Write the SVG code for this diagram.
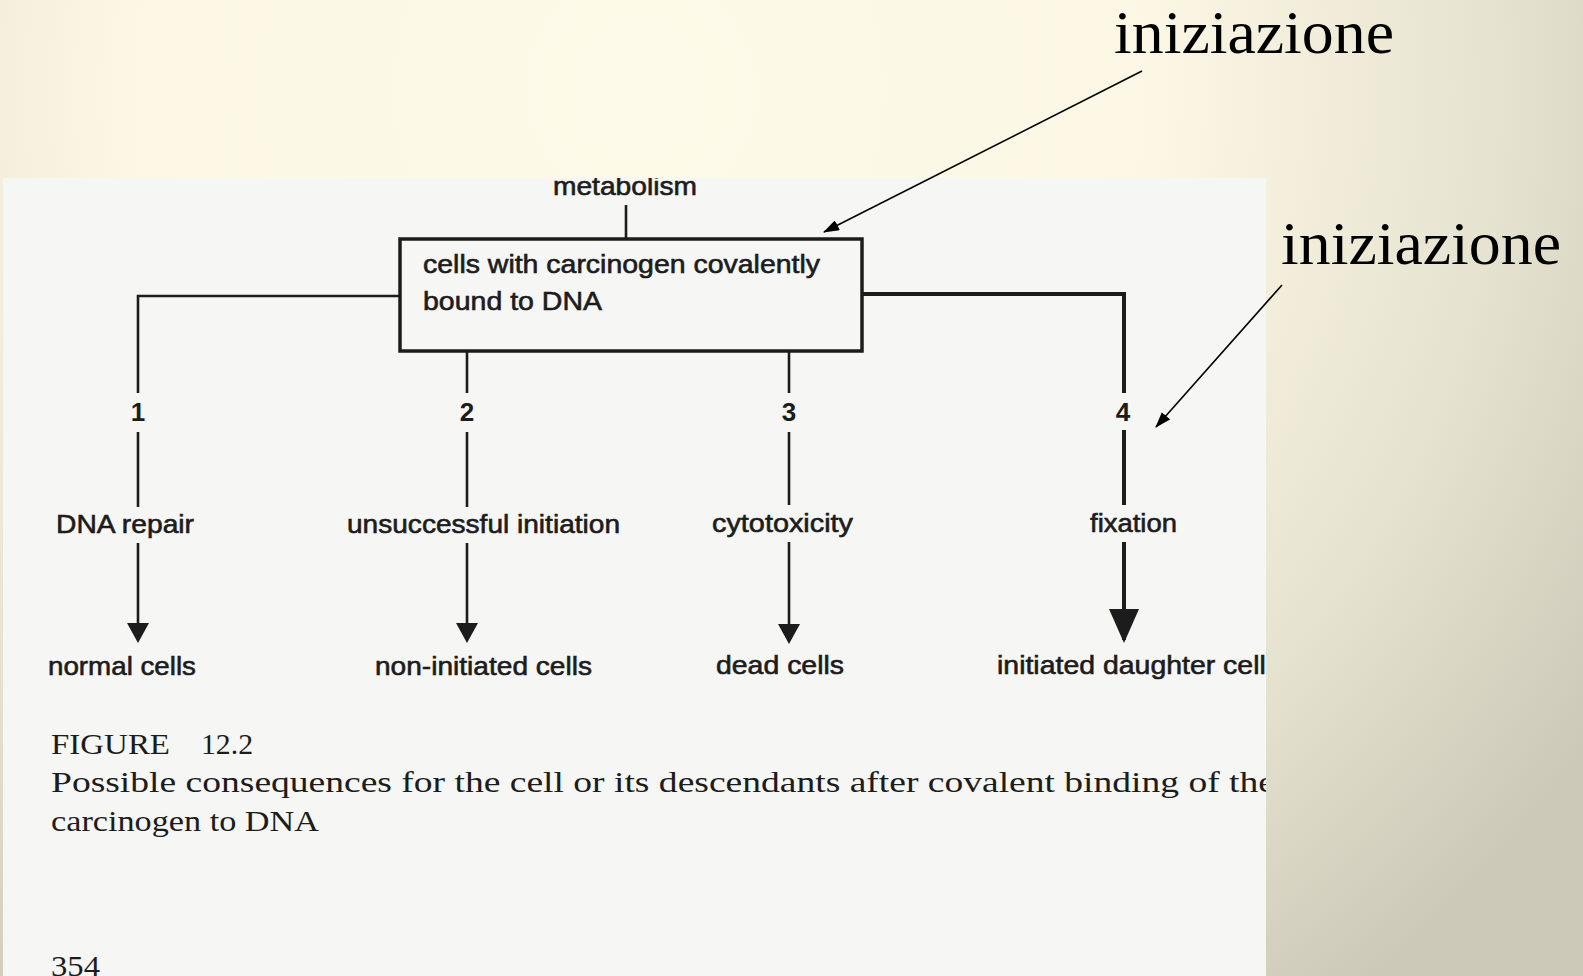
<svg xmlns="http://www.w3.org/2000/svg" width="1583" height="976" viewBox="0 0 1583 976">
  <defs>
    <radialGradient id="bg" gradientUnits="userSpaceOnUse" cx="640" cy="90" r="1150">
      <stop offset="0" stop-color="#FDFAE9"/>
      <stop offset="0.45" stop-color="#FBF7E4"/>
      <stop offset="0.75" stop-color="#E6E2D0"/>
      <stop offset="1" stop-color="#CDC9B8"/>
    </radialGradient>
    <clipPath id="panelClip">
      <rect x="3" y="178" width="1263" height="798"/>
    </clipPath>
    <marker id="arr" viewBox="0 0 20 22" refX="17" refY="11" markerWidth="20" markerHeight="22" markerUnits="userSpaceOnUse" orient="auto">
      <path d="M0,0 L20,11 L0,22 z" fill="#1c1c1c"/>
    </marker>
    <marker id="arrBig" viewBox="0 0 34 30" refX="31" refY="15" markerWidth="34" markerHeight="30" markerUnits="userSpaceOnUse" orient="auto">
      <path d="M0,0 L34,15 L0,30 z" fill="#1c1c1c"/>
    </marker>
    <marker id="ann" viewBox="0 0 16 11" refX="15" refY="5.5" markerWidth="16" markerHeight="11" markerUnits="userSpaceOnUse" orient="auto">
      <path d="M0,0 L16,5.5 L0,11 z" fill="#000"/>
    </marker>
    <style>
      .sans { font-family: "Liberation Sans", Arial, sans-serif; font-size: 26px; fill: #1c1c1c; stroke: #1c1c1c; stroke-width: 0.6; }
      .num { font-family: "Liberation Sans", Arial, sans-serif; font-size: 26px; font-weight: bold; fill: #1c1c1c; text-anchor: middle; }
      .cap { font-family: "Liberation Serif", "Times New Roman", serif; font-size: 30px; fill: #1c1c1c; }
      .ital { font-family: "Liberation Serif", "Times New Roman", serif; font-size: 62px; fill: #000; }
      .ln { stroke: #1c1c1c; stroke-width: 2.6; fill: none; }
      .thick { stroke: #1c1c1c; stroke-width: 4; fill: none; }
      .annl { stroke: #000; stroke-width: 1.6; fill: none; }
      .box { fill: none; stroke: #1c1c1c; stroke-width: 3.5; }
    </style>
  </defs>

  <rect x="0" y="0" width="1583" height="976" fill="url(#bg)"/>

  <!-- scanned figure panel -->
  <rect id="panel" x="3" y="178" width="1263" height="798" fill="#F6F6F4"/>

  <g clip-path="url(#panelClip)">
    <g id="node-metabolism">
      <text class="sans" x="553" y="195" textLength="144" lengthAdjust="spacingAndGlyphs">metabolism</text>
    </g>

    <g id="node-cells">
      <rect class="box" x="400" y="239" width="462" height="112"/>
      <text class="sans" x="423" y="273" textLength="397" lengthAdjust="spacingAndGlyphs">cells with carcinogen covalently</text>
      <text class="sans" x="423" y="310" textLength="179" lengthAdjust="spacingAndGlyphs">bound to DNA</text>
    </g>

    <g id="connectors">
      <line class="ln" x1="626" y1="205" x2="626" y2="239"/>
      <!-- path 1 -->
      <polyline class="ln" points="400,296 138,296 138,393"/>
      <line class="ln" x1="138" y1="432" x2="138" y2="507"/>
      <line class="ln" x1="138" y1="543" x2="138" y2="640" marker-end="url(#arr)"/>
      <!-- path 2 -->
      <line class="ln" x1="467" y1="351" x2="467" y2="393"/>
      <line class="ln" x1="467" y1="432" x2="467" y2="507"/>
      <line class="ln" x1="467" y1="543" x2="467" y2="640" marker-end="url(#arr)"/>
      <!-- path 3 -->
      <line class="ln" x1="789" y1="351" x2="789" y2="393"/>
      <line class="ln" x1="789" y1="432" x2="789" y2="505"/>
      <line class="ln" x1="789" y1="542" x2="789" y2="641" marker-end="url(#arr)"/>
      <!-- path 4 -->
      <polyline class="thick" points="862,294 1124,294 1124,393"/>
      <line class="thick" x1="1124" y1="430" x2="1124" y2="505"/>
      <line class="thick" x1="1124" y1="542" x2="1124" y2="640" marker-end="url(#arrBig)"/>
    </g>

    <g id="label-1"><text class="num" x="138" y="421">1</text></g>
    <g id="label-2"><text class="num" x="467" y="421">2</text></g>
    <g id="label-3"><text class="num" x="789" y="421">3</text></g>
    <g id="label-4"><text class="num" x="1123" y="421">4</text></g>

    <g id="node-dna-repair">
      <text class="sans" x="56" y="533" textLength="138" lengthAdjust="spacingAndGlyphs">DNA repair</text>
    </g>
    <g id="node-unsuccessful">
      <text class="sans" x="347" y="533" textLength="273" lengthAdjust="spacingAndGlyphs">unsuccessful initiation</text>
    </g>
    <g id="node-cytotoxicity">
      <text class="sans" x="712" y="532" textLength="141" lengthAdjust="spacingAndGlyphs">cytotoxicity</text>
    </g>
    <g id="node-fixation">
      <text class="sans" x="1090" y="532" textLength="87" lengthAdjust="spacingAndGlyphs">fixation</text>
    </g>

    <g id="node-normal">
      <text class="sans" x="48" y="675" textLength="148" lengthAdjust="spacingAndGlyphs">normal cells</text>
    </g>
    <g id="node-noninitiated">
      <text class="sans" x="375" y="675" textLength="217" lengthAdjust="spacingAndGlyphs">non-initiated cells</text>
    </g>
    <g id="node-dead">
      <text class="sans" x="716" y="674" textLength="128" lengthAdjust="spacingAndGlyphs">dead cells</text>
    </g>
    <g id="node-initiated">
      <text class="sans" x="997" y="674" textLength="283" lengthAdjust="spacingAndGlyphs">initiated daughter cells</text>
    </g>

    <g id="caption">
      <text class="cap" x="51" y="754"><tspan x="51" textLength="119" lengthAdjust="spacingAndGlyphs">FIGURE</tspan><tspan x="201" textLength="52" lengthAdjust="spacingAndGlyphs">12.2</tspan></text>
      <text class="cap" x="51" y="792" textLength="1224" lengthAdjust="spacingAndGlyphs">Possible consequences for the cell or its descendants after covalent binding of the</text>
      <text class="cap" x="51" y="831" textLength="268" lengthAdjust="spacingAndGlyphs">carcinogen to DNA</text>
      <text class="cap" x="51" y="976" textLength="49" lengthAdjust="spacingAndGlyphs">354</text>
    </g>
  </g>

  <g id="annotation-1">
    <text class="ital" x="1114" y="53" textLength="280" lengthAdjust="spacingAndGlyphs">iniziazione</text>
  </g>
  <g id="annotation-2">
    <text class="ital" x="1281" y="264" textLength="280" lengthAdjust="spacingAndGlyphs">iniziazione</text>
  </g>
  <g id="annotation-connectors">
    <line class="annl" x1="1142" y1="71" x2="824" y2="232" marker-end="url(#ann)"/>
    <line class="annl" x1="1282" y1="285" x2="1156" y2="427" marker-end="url(#ann)"/>
  </g>
</svg>
